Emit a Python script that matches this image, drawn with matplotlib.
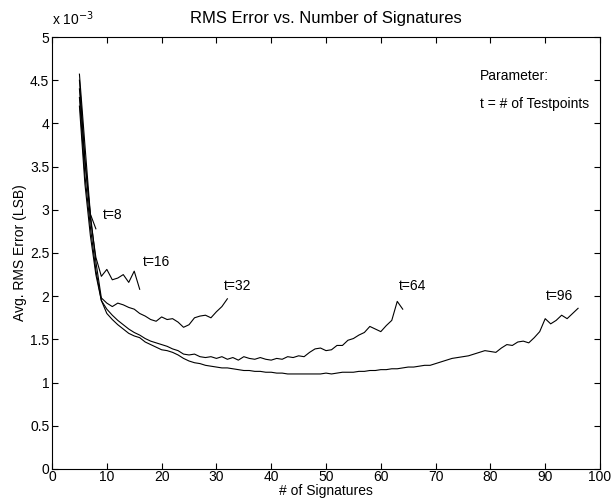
import numpy as np
import matplotlib.pyplot as plt

plt.rcParams['font.family'] = ['Liberation Sans', 'DejaVu Sans']
plt.rcParams['font.size'] = 10

# avg. RMS error in units of 1e-3 LSB, x = number of signatures (5 .. t)
err_t8 = [4.57, 3.75, 2.95, 2.78]
err_t16 = [4.50, 3.60, 2.90, 2.45, 2.23, 2.31, 2.19, 2.21, 2.25, 2.16, 2.29, 2.08]
err_t32 = [4.40, 3.55, 2.95, 2.40, 1.98, 1.92, 1.88, 1.92, 1.90, 1.87, 1.85, 1.80,
           1.77, 1.73, 1.71, 1.76, 1.73, 1.74, 1.70, 1.64, 1.67, 1.75, 1.77, 1.78,
           1.75, 1.82, 1.88, 1.97]
err_t64 = [4.30, 3.40, 2.80, 2.30, 1.95, 1.85, 1.78, 1.72, 1.67, 1.62, 1.58, 1.55,
           1.51, 1.48, 1.46, 1.44, 1.42, 1.39, 1.37, 1.33, 1.32, 1.33, 1.30, 1.29,
           1.30, 1.28, 1.30, 1.27, 1.29, 1.26, 1.30, 1.28, 1.27, 1.29, 1.27, 1.26,
           1.28, 1.27, 1.30, 1.29, 1.31, 1.30, 1.35, 1.39, 1.40, 1.37, 1.38, 1.43,
           1.43, 1.49, 1.51, 1.55, 1.58, 1.65, 1.62, 1.59, 1.66, 1.72, 1.94, 1.85]
err_t96 = [4.20, 3.30, 2.70, 2.25, 1.95, 1.80, 1.73, 1.67, 1.62, 1.57, 1.54, 1.52,
           1.47, 1.44, 1.41, 1.38, 1.37, 1.35, 1.32, 1.28, 1.25, 1.23, 1.22, 1.20,
           1.19, 1.18, 1.17, 1.17, 1.16, 1.15, 1.14, 1.14, 1.13, 1.13, 1.12, 1.12,
           1.11, 1.11, 1.10, 1.10, 1.10, 1.10, 1.10, 1.10, 1.10, 1.11, 1.10, 1.11,
           1.12, 1.12, 1.12, 1.13, 1.13, 1.14, 1.14, 1.15, 1.15, 1.16, 1.16, 1.17,
           1.18, 1.18, 1.19, 1.20, 1.20, 1.22, 1.24, 1.26, 1.28, 1.29, 1.30, 1.31,
           1.33, 1.35, 1.37, 1.36, 1.35, 1.40, 1.44, 1.43, 1.47, 1.48, 1.46, 1.52,
           1.59, 1.74, 1.68, 1.72, 1.78, 1.74, 1.80, 1.86]

series = {8: err_t8, 16: err_t16, 32: err_t32, 64: err_t64, 96: err_t96}
# label positions (x, y) next to each curve end
label_pos = {8: (11.1, 2.94), 16: (19.1, 2.40), 32: (33.9, 2.12),
             64: (65.7, 2.12), 96: (92.6, 2.00)}

fig = plt.figure(figsize=(6.15, 5.0), dpi=100)
ax = fig.add_axes([0.0846, 0.062, 0.891, 0.864])

for t, err in series.items():
    x = np.arange(5, 5 + len(err))
    ax.plot(x, err, color='black', linewidth=0.8)
    lx, ly = label_pos[t]
    ax.text(lx, ly, 't=%d' % t, ha='center', va='center')

ax.text(78.1, 4.55, 'Parameter:', ha='left', va='center')
ax.text(78.1, 4.23, 't = # of Testpoints', ha='left', va='center')

ax.set_xlim(0, 100)
ax.set_ylim(0, 5)
ax.set_xticks(np.arange(0, 101, 10))
ax.set_yticks(np.arange(0, 5.01, 0.5))
ax.set_yticklabels(['0', '0.5', '1', '1.5', '2', '2.5', '3', '3.5', '4', '4.5', '5'])
ax.tick_params(direction='in', top=True, right=True, length=4, pad=2)
ax.tick_params(axis='x', pad=1)
ax.text(0.0, 1.02, 'x 10$^{-3}$', transform=ax.transAxes, ha='left', va='bottom')

ax.set_title('RMS Error vs. Number of Signatures', pad=10)
ax.set_xlabel('# of Signatures', labelpad=0)
ax.set_ylabel('Avg. RMS Error (LSB)', labelpad=2)

fig.savefig('out.png', dpi=100)
